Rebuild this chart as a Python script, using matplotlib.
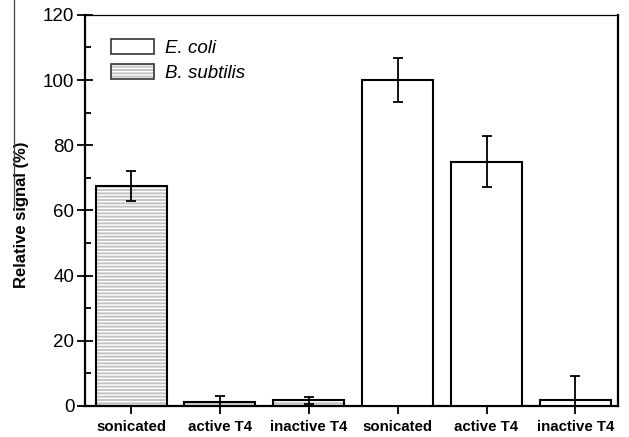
import numpy as np
import matplotlib.pyplot as plt
from matplotlib.patches import Patch
from matplotlib.lines import Line2D

plt.rcParams['font.family'] = ['Liberation Sans', 'DejaVu Sans']

# data
labels = ['sonicated', 'active T4', 'inactive T4', 'sonicated', 'active T4', 'inactive T4']
bsub_vals = [67.5, 1.3, 1.7]
bsub_err = [4.5, 1.9, 1.0]
ecoli_vals = [100.0, 75.0, 1.8]
ecoli_err = [6.7, 7.7, 7.5]

x = np.arange(1, 7)
xb = x[:3]
xe = x[3:]
w = 0.8
grey = '#c4c4c4'

fig = plt.figure(figsize=(6.29, 4.37), dpi=100)
ax = fig.add_axes([0.135, 0.071, 0.8475, 0.895])

# B. subtilis: grey with white horizontal stripes, then black outline
ax.bar(xb, bsub_vals, w, color=grey, edgecolor='white', hatch='-----', linewidth=0, zorder=2)
ax.bar(xb, bsub_vals, w, fill=False, edgecolor='black', linewidth=1.5, zorder=3)
ax.errorbar(xb, bsub_vals, yerr=bsub_err, fmt='none', ecolor='black',
            elinewidth=1.3, capsize=3.3, capthick=1.3, zorder=4)

# E. coli: open bars
ax.bar(xe, ecoli_vals, w, color='white', edgecolor='black', linewidth=1.5, zorder=3)
ax.errorbar(xe, ecoli_vals, yerr=ecoli_err, fmt='none', ecolor='black',
            elinewidth=1.3, capsize=3.3, capthick=1.3, zorder=4)

ax.set_xlim(0.48, 6.48)
ax.set_ylim(0, 120)
ax.set_xticks(x)
ax.set_xticklabels(labels, fontsize=10.8, fontweight='bold')
ax.set_yticks(np.arange(0, 121, 20))
ax.set_yticks(np.arange(10, 120, 20), minor=True)
ax.tick_params(axis='y', which='major', direction='inout', length=11, width=1.3,
               labelsize=13.5, pad=2)
ax.tick_params(axis='y', which='minor', direction='in', length=4, width=1.3)
ax.tick_params(axis='x', which='major', direction='out', length=6, width=1.3, pad=4)

ax.set_ylabel('Relative signal (%)', fontsize=12, fontweight='bold')
ax.yaxis.set_label_coords(-0.104, 0.49)

for s in ['left', 'bottom', 'right']:
    ax.spines[s].set_linewidth(1.6)
ax.spines['top'].set_linewidth(0.9)

# legend
h_e = Patch(facecolor='white', edgecolor='#333333', linewidth=1.2)
h_b1 = Patch(facecolor=grey, edgecolor='white', hatch='-----', linewidth=0)
h_b2 = Patch(fill=False, edgecolor='#333333', linewidth=1.2)
leg = ax.legend([h_e, (h_b1, h_b2)], ['E. coli', 'B. subtilis'],
                loc='upper left', bbox_to_anchor=(0.035, 0.958), frameon=False,
                prop={'size': 13.5, 'style': 'italic'},
                handlelength=2.3, handleheight=0.85, labelspacing=0.4,
                handletextpad=0.55, borderaxespad=0)

# thin crop line at the far left of the original image
fig.add_artist(Line2D([14 / 629, 14 / 629], [1.0, 1 - 210 / 437],
                      transform=fig.transFigure, color='#444444', linewidth=0.9))

fig.savefig('out.png', dpi=100)
